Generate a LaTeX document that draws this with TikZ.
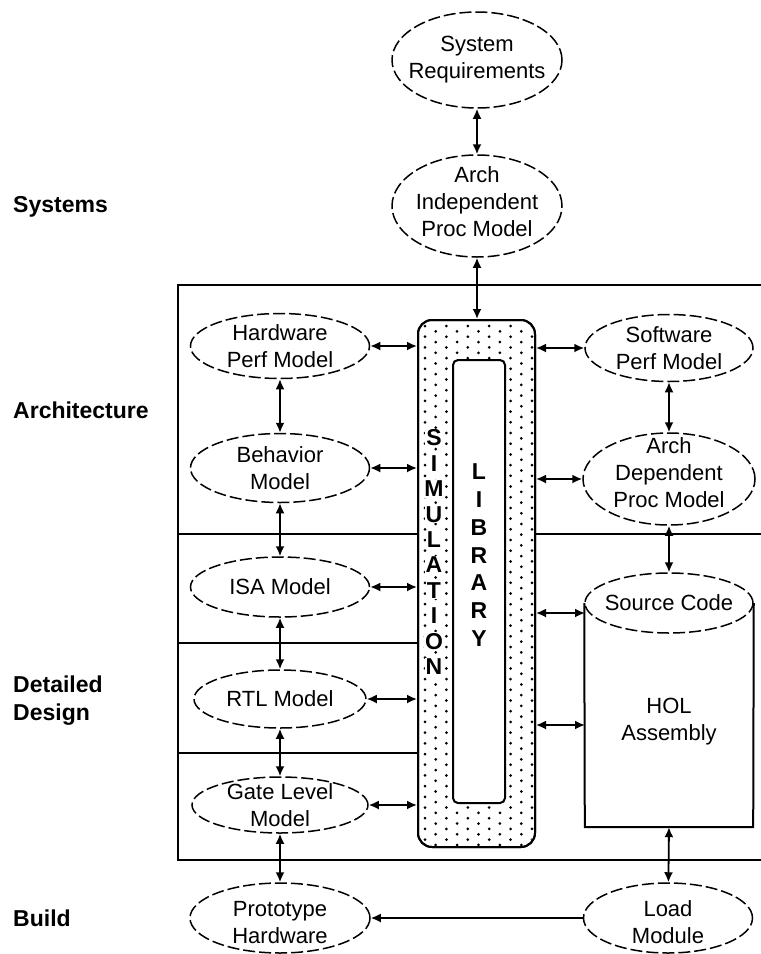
\documentclass[tikz,border=0pt]{standalone}
\usepackage{fontspec}
\setmainfont{Liberation Sans}
\usetikzlibrary{arrows.meta,calc,shapes.geometric}
\begin{document}
\begin{tikzpicture}[x=1pt,y=-1pt,
  oval/.style={draw, ellipse, line width=1.5pt, dash pattern=on 12pt off 4pt, inner sep=0pt},
  lbl/.style={font=\fontsize{22}{27}\selectfont, align=center, inner sep=0pt},
  side/.style={font=\bfseries\fontsize{23}{28}\selectfont, align=left, anchor=west, inner sep=0pt},
  dbl/.style={line width=1.8pt, {Latex[length=10pt,width=9pt]}-{Latex[length=10pt,width=9pt]}},
  sgl/.style={line width=1.8pt, -{Latex[length=10pt,width=9pt]}},
  frame/.style={line width=2pt},
  letter/.style={font=\bfseries\fontsize{23}{23}\selectfont, inner sep=1pt, fill=white}
]
\useasboundingbox (0,0) rectangle (761,954);

% side labels
\node[side] (sys) at (13,207) {Systems};
\node[side] (arch) at (13,410) {Architecture};
\node[side] (dd) at (13,701) {Detailed\\Design};
\node[side] (bld) at (13,918) {Build};

% frame and dividers
\draw[frame] (761,285) -- (178,285) -- (178,860) -- (761,860);
\draw[frame] (178,534) -- (418,534);
\draw[frame] (535,534) -- (761,534);
\draw[frame] (178,643) -- (418,643);
\draw[frame] (178,753) -- (418,753);

% simulation box with dots
\node[draw, frame, fill=white, rounded corners=14pt, minimum width=117pt, minimum height=527pt, inner sep=0pt] (sim) at (476.5,583.5) {};
\begin{scope}
  \clip[rounded corners=14pt] (419,321) rectangle (534,846);
  \foreach \j in {0,...,49} {
    \foreach \i in {0,...,5} {
      \fill (425+\i*21.4, 326+\j*10.7) circle (1.5pt);
      \fill (435.7+\i*21.4, 331.35+\j*10.7) circle (1.5pt);
    }
  }
\end{scope}
\draw[frame, rounded corners=14pt] (418,320) rectangle (535,847);
\node[draw, frame, fill=white, rounded corners=5pt, minimum width=52pt, minimum height=443pt, inner sep=0pt] (lib) at (479,581.5) {};
\foreach \c [count=\k from 0] in {S,I,M,U,L,A,T,I,O,N}
  \node[letter] (simletter\k) at (434,438+\k*25.4) {\c};
\foreach \c [count=\k from 0] in {L,I,B,R,A,R,Y}
  \node[letter] (libletter\k) at (479,472+\k*27.7) {\c};

% top ellipses
\node[oval, minimum width=170pt, minimum height=96pt] (sysreq) at (477,60) {};
\node[lbl] at (sysreq) {System\\Requirements};
\node[oval, minimum width=170pt, minimum height=102pt] (archind) at (477,206) {};
\node[lbl] at ($(archind)+(0,-4)$) {Arch\\Independent\\Proc Model};

% left column
\node[oval, minimum width=179pt, minimum height=65pt] (hw) at (280,346) {};
\node[lbl] at (hw) {Hardware\\Perf Model};
\node[oval, minimum width=179pt, minimum height=69pt] (beh) at (280,468) {};
\node[lbl] at (beh) {Behavior\\Model};
\node[oval, minimum width=179pt, minimum height=60pt] (isa) at (280,587) {};
\node[lbl] at (isa) {ISA Model};
\node[oval, minimum width=172pt, minimum height=58pt] (rtl) at (280,699) {};
\node[lbl] at (rtl) {RTL Model};
\node[oval, minimum width=176pt, minimum height=56pt] (gate) at (280,805) {};
\node[lbl] at (gate) {Gate Level\\Model};
\node[oval, minimum width=180pt, minimum height=70pt] (proto) at (280,918) {};
\node[lbl] at ($(proto)+(0,5)$) {Prototype\\Hardware};

% right column
\node[oval, minimum width=168pt, minimum height=67pt] (sw) at (669,348) {};
\node[lbl] at (sw) {Software\\Perf Model};
\node[oval, minimum width=172pt, minimum height=92pt] (ad) at (669,479) {};
\node[lbl] at ($(ad)+(0,-6)$) {Arch\\Dependent\\Proc Model};
\node[oval, minimum width=168pt, minimum height=60pt] (src) at (669,603) {};
\node[lbl] at (src) {Source Code};
\node[minimum width=168pt, minimum height=224pt, inner sep=0pt] (cyl) at (669,715) {};
\draw[frame] (src.west) -- (cyl.south west) -- (cyl.south east) -- (src.east);
\node[lbl] at (669,722) {HOL\\Assembly};
\node[oval, minimum width=169pt, minimum height=70pt] (load) at (668,918) {};
\node[lbl] at ($(load)+(0,4)$) {Load\\Module};

% connectors
\draw[dbl] (sysreq) -- (archind);
\draw[dbl] (archind) -- (archind |- sim.north);
\draw[dbl] (hw) -- (beh);
\draw[dbl] (beh) -- (isa);
\draw[dbl] (isa) -- (rtl);
\draw[dbl] (rtl) -- (gate);
\draw[dbl] (gate) -- (proto);
\draw[dbl] (hw) -- (hw -| sim.west);
\draw[dbl] (beh) -- (beh -| sim.west);
\draw[dbl] (isa) -- (isa -| sim.west);
\draw[dbl] (rtl) -- (rtl -| sim.west);
\draw[dbl] (gate) -- (gate -| sim.west);
\draw[dbl] (sw -| sim.east) -- (sw);
\draw[dbl] (ad -| sim.east) -- (ad);
\draw[dbl] (sw) -- (ad);
\draw[dbl] (ad) -- (src);
\coordinate (c1) at (585,613);
\coordinate (c2) at (585,725);
\draw[dbl] (c1 -| sim.east) -- (c1);
\draw[dbl] (c2 -| sim.east) -- (c2);
\draw[dbl] (cyl.south) -- (load);
\draw[sgl] (load) -- (proto);
\end{tikzpicture}
\end{document}
